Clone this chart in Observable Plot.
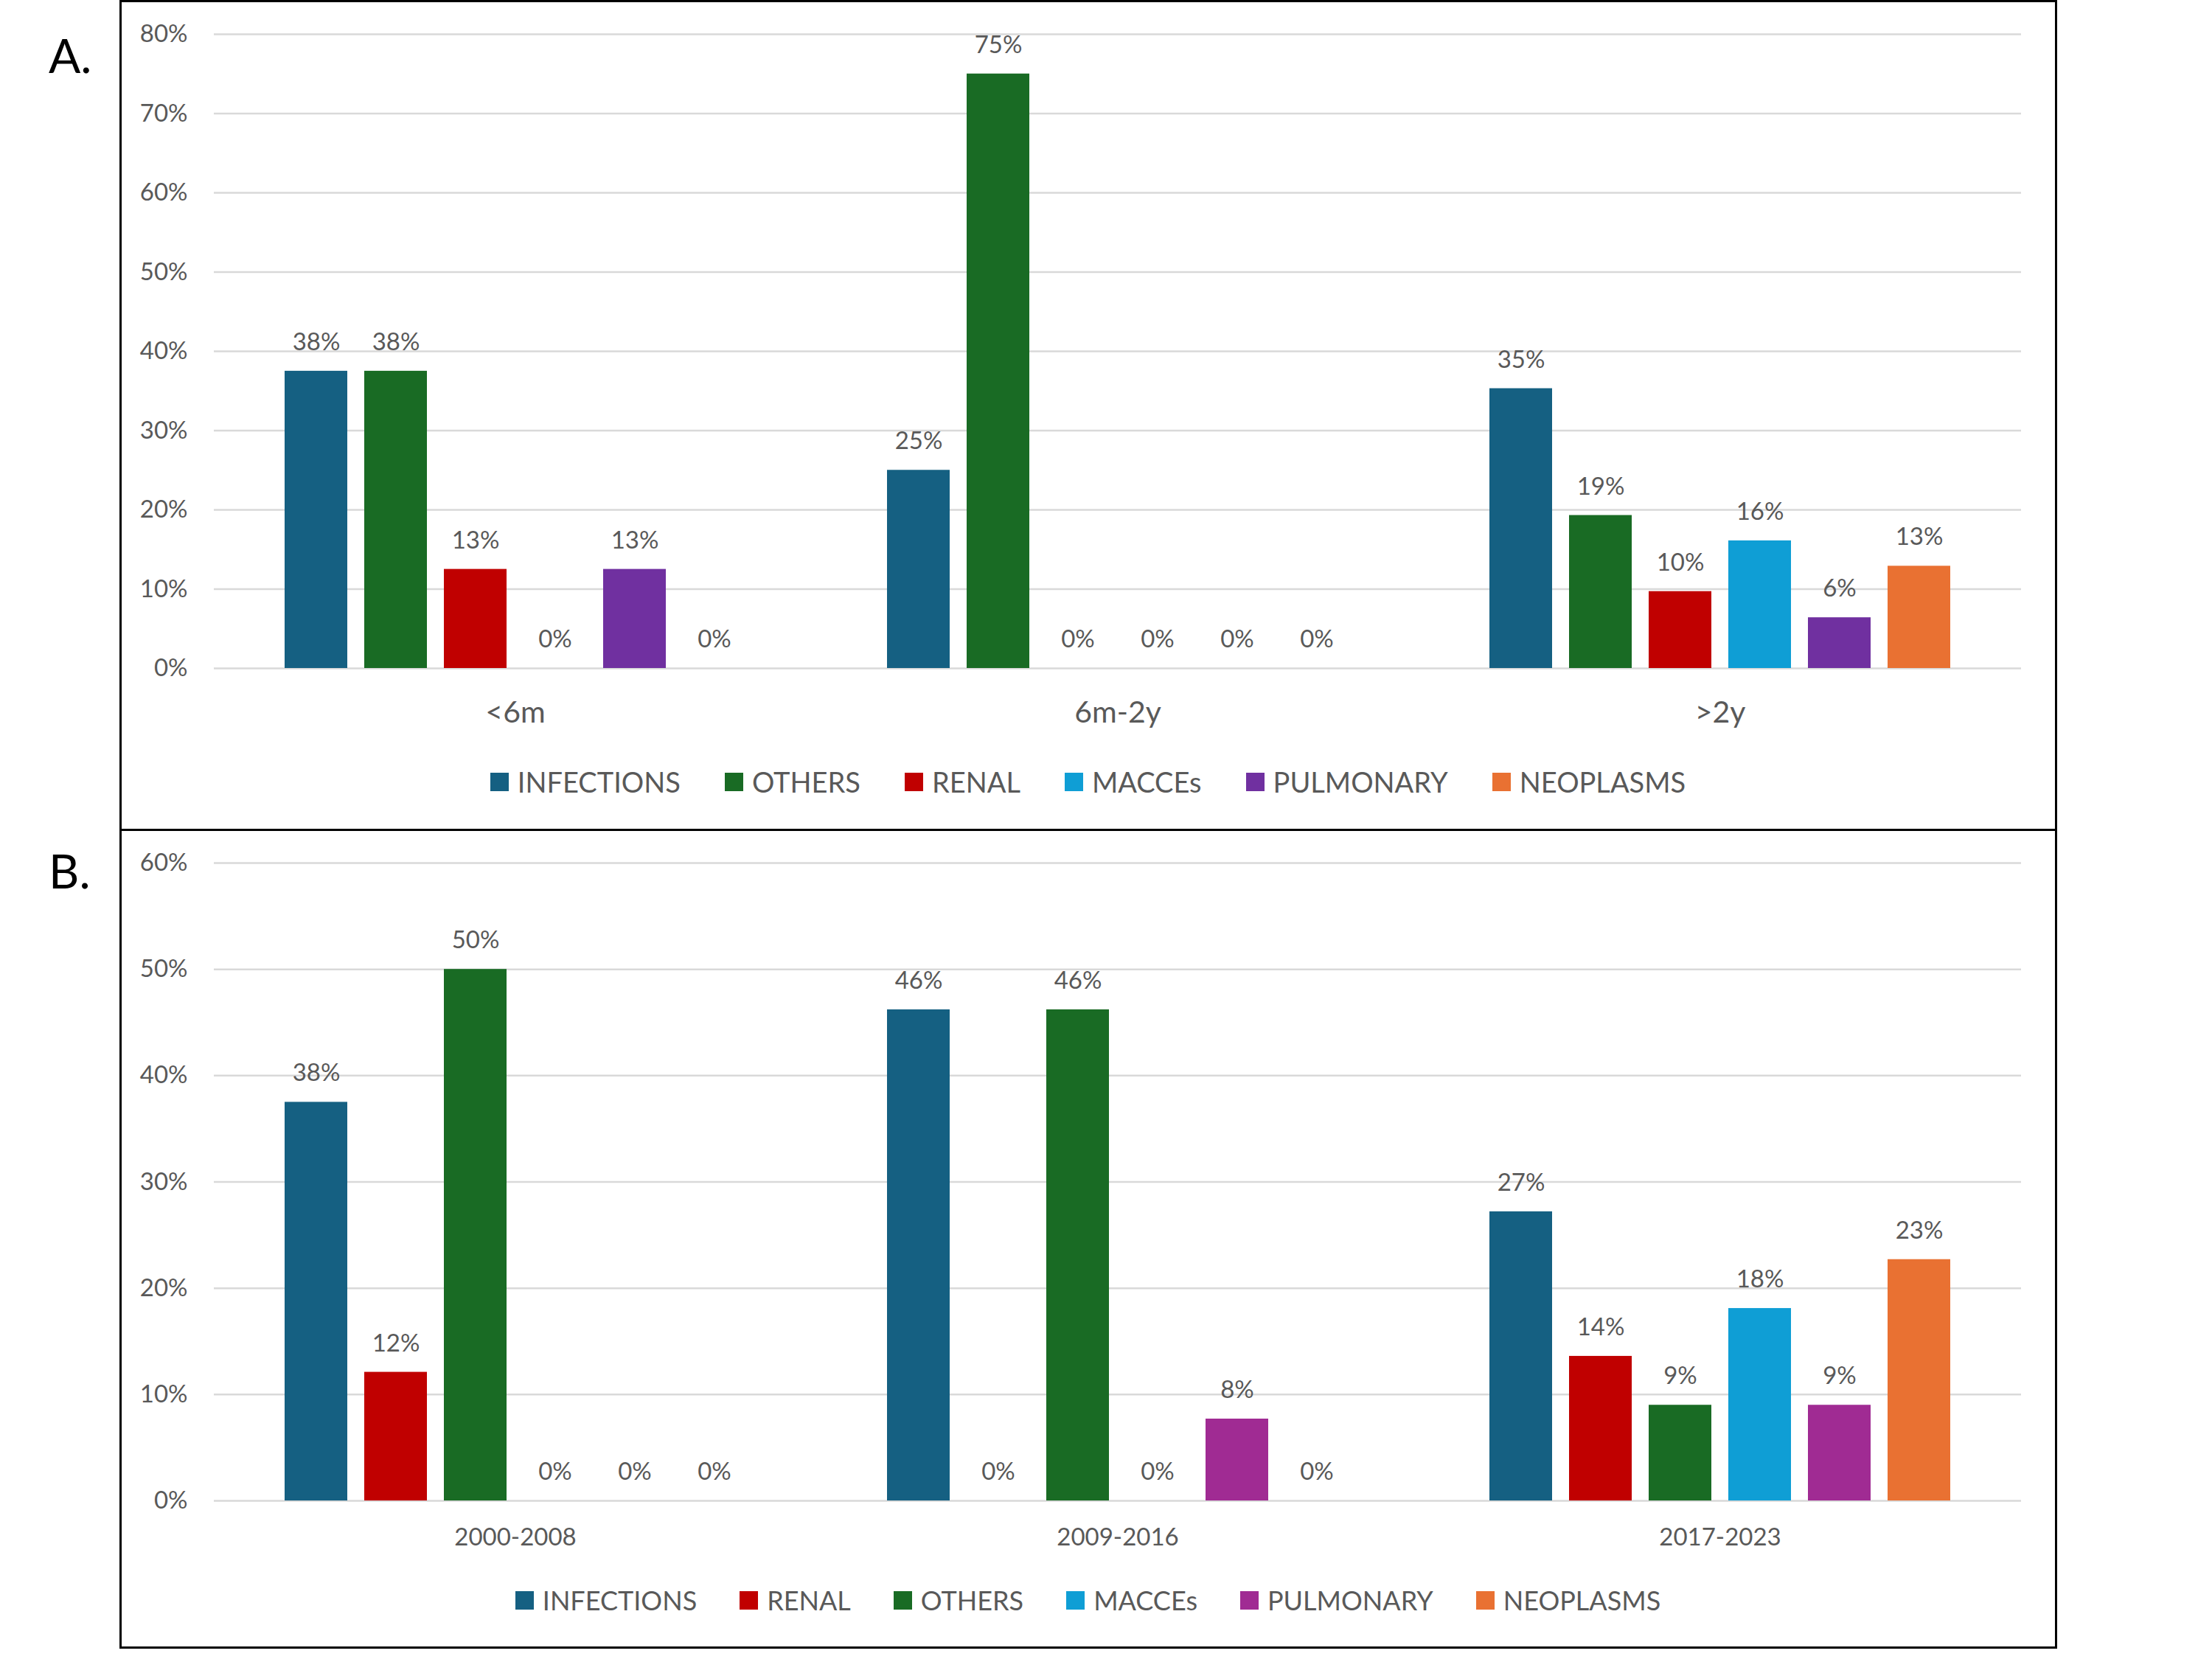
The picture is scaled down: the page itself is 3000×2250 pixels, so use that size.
<!DOCTYPE html>
<html>
<head>
<meta charset="utf-8">
<script src="https://cdn.jsdelivr.net/npm/d3@7"></script>
<script src="https://cdn.jsdelivr.net/npm/@observablehq/plot@0.6"></script>
<style>
  html, body { margin: 0; padding: 0; background: #ffffff; }
  body { width: 3000px; height: 2250px; position: relative; overflow: hidden; font-family: Lato, "Open Sans", sans-serif; }
  .box { position: absolute; border: 3px solid #000; box-sizing: border-box; }
  .tag { position: absolute; font-family: Lato, sans-serif; font-size: 64px; line-height: 1; color: #000; }
  .plot { position: absolute; left: 0; }
  .legend { position: absolute; left: 163px; width: 2625px; height: 50px; display: flex; justify-content: center; align-items: center; font-family: Lato, sans-serif; color: #595959; }
  .legend .item { display: flex; align-items: center; }
  .legend .sw { width: 25px; height: 25px; margin-right: 12px; }
</style>
</head>
<body>
<div class="box" style="left:162px; top:0px; width:2628px; height:1127px;"></div>
<div class="box" style="left:162px; top:1124px; width:2628px; height:1112px;"></div>
<div class="tag" style="left:66px; top:43px;">A.</div>
<div class="tag" style="left:66px; top:1149px;">B.</div>
<div id="plotA" class="plot" style="top:0px;"></div>
<div id="legendA" class="legend" style="top:1035px; font-size:38px;"></div>
<div id="plotB" class="plot" style="top:1125px;"></div>
<div id="legendB" class="legend" style="top:2145px; font-size:36px;"></div>
<script>
// ---- Panel A: time since transplant ----
const categoriesA = ["<6m", "6m-2y", ">2y"];
const seriesA = ["INFECTIONS", "OTHERS", "RENAL", "MACCEs", "PULMONARY", "NEOPLASMS"];
const colorsA = ["#156082", "#196B24", "#C00000", "#0F9ED5", "#7030A0", "#E97132"];
const infectionsA = [37.5, 25.0, 35.3];
const othersA     = [37.5, 75.0, 19.3];
const renalA      = [12.5,  0.0,  9.7];
const maccesA     = [ 0.0,  0.0, 16.1];
const pulmonaryA  = [12.5,  0.0,  6.4];
const neoplasmsA  = [ 0.0,  0.0, 12.9];
const yTicksA = [0, 10, 20, 30, 40, 50, 60, 70, 80];

// ---- Panel B: period ----
const categoriesB = ["2000-2008", "2009-2016", "2017-2023"];
const seriesB = ["INFECTIONS", "RENAL", "OTHERS", "MACCEs", "PULMONARY", "NEOPLASMS"];
const colorsB = ["#156082", "#C00000", "#196B24", "#0F9ED5", "#A02B93", "#E97132"];
const infectionsB = [37.5, 46.2, 27.2];
const renalB      = [12.1,  0.0, 13.6];
const othersB     = [50.0, 46.2,  9.0];
const maccesB     = [ 0.0,  0.0, 18.1];
const pulmonaryB  = [ 0.0,  7.7,  9.0];
const neoplasmsB  = [ 0.0,  0.0, 22.7];
const yTicksB = [0, 10, 20, 30, 40, 50, 60];

function toRows(categories, series, columns) {
  const rows = [];
  categories.forEach((c, i) => {
    series.forEach((s, j) => rows.push({cat: c, series: s, value: columns[j][i]}));
  });
  return rows;
}

const rowsA = toRows(categoriesA, seriesA, [infectionsA, othersA, renalA, maccesA, pulmonaryA, neoplasmsA]);
const rowsB = toRows(categoriesB, seriesB, [infectionsB, renalB, othersB, maccesB, pulmonaryB, neoplasmsB]);

function panel(rows, categories, series, colors, ticks, opts) {
  return Plot.plot({
    width: 3000,
    height: opts.height,
    marginLeft: 290,
    marginRight: 259,
    marginTop: opts.marginTop,
    marginBottom: opts.marginBottom,
    style: {fontFamily: "Lato, sans-serif", color: "#595959", background: "transparent", overflow: "visible"},
    fx: {domain: categories, padding: 0, label: null},
    x: {domain: series, paddingInner: 0.217, paddingOuter: 0.873, axis: null},
    y: {domain: [0, ticks[ticks.length - 1]], axis: null},
    color: {domain: series, range: colors},
    marks: [
      Plot.ruleY(ticks, {stroke: "#D9D9D9", strokeWidth: 2.5}),
      Plot.barY(rows, {fx: "cat", x: "series", y: "value", fill: "series"}),
      Plot.text(rows, {fx: "cat", x: "series", y: "value", text: d => Math.round(d.value) + "%", dy: -39, fontSize: 33, fill: "#595959"}),
      Plot.axisFx({anchor: "bottom", tickSize: 0, tickPadding: opts.fxPadding, fontSize: opts.fxFont, label: null}),
      Plot.axisY(ticks, {anchor: "left", tickSize: 0, tickPadding: 36, fontSize: 33, tickFormat: d => d + "%", label: null})
    ]
  });
}

document.getElementById("plotA").append(panel(rowsA, categoriesA, seriesA, colorsA, yTicksA,
  {height: 1010, marginTop: 46, marginBottom: 104, fxPadding: 44, fxFont: 41}));
document.getElementById("plotB").append(panel(rowsB, categoriesB, seriesB, colorsB, yTicksB,
  {height: 980, marginTop: 45, marginBottom: 70, fxPadding: 37, fxFont: 33}));

function legend(el, series, colors, gap) {
  series.forEach((s, i) => {
    const item = document.createElement("div");
    item.className = "item";
    item.style.margin = "0 " + gap + "px";
    const sw = document.createElement("div");
    sw.className = "sw";
    sw.style.background = colors[i];
    const t = document.createElement("span");
    t.textContent = s;
    item.append(sw, t);
    el.append(item);
  });
}
legend(document.getElementById("legendA"), seriesA, colorsA, 30);
legend(document.getElementById("legendB"), seriesB, colorsB, 29);
</script>
</body>
</html>
